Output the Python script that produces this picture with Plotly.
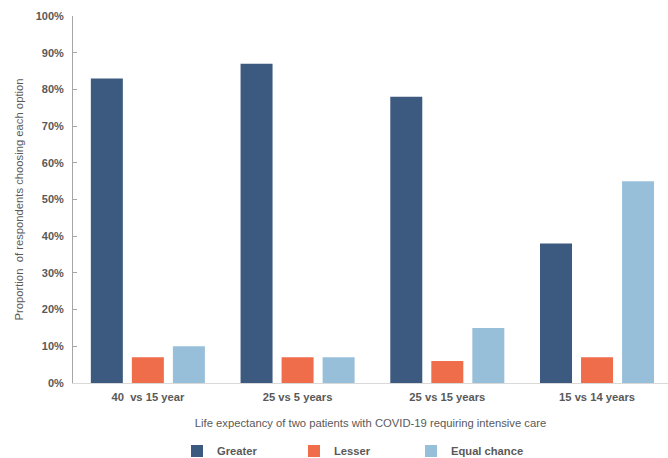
import plotly.graph_objects as go

categories = ["40  vs 15 year", "25 vs 5 years", "25 vs 15 years", "15 vs 14 years"]
greater = [83, 87, 78, 38]
lesser = [7, 7, 6, 7]
equal_chance = [10, 7, 15, 55]
y_ticks = [0, 10, 20, 30, 40, 50, 60, 70, 80, 90, 100]
y_tick_labels = [f"{v}%" for v in y_ticks]

colors = {"Greater": "#3C5A80", "Lesser": "#EF6D4B", "Equal chance": "#98BFDA"}
font_family = "Liberation Sans, Arial, sans-serif"
text_color = "#595959"

fig = go.Figure()
for name, vals in [("Greater", greater), ("Lesser", lesser), ("Equal chance", equal_chance)]:
    fig.add_trace(go.Bar(
        name=name, x=categories, y=vals,
        marker=dict(color=colors[name], line=dict(width=0)),
    ))

fig.update_layout(
    width=668, height=458,
    margin=dict(l=73, r=0, t=16, b=75, autoexpand=False),
    paper_bgcolor="white", plot_bgcolor="white",
    barmode="group", bargap=0.178, bargroupgap=0.22,
    font=dict(family=font_family, color=text_color, size=11.2),
    showlegend=True,
    legend=dict(
        orientation="h", xref="container", x=177 / 668, xanchor="left",
        yref="container", y=(458 - 451) / 458, yanchor="middle",
        font=dict(family=font_family, size=11.2, color=text_color, weight="bold"),
        entrywidth=72, entrywidthmode="pixels", itemwidth=30,
        bgcolor="rgba(0,0,0,0)",
    ),
    xaxis=dict(
        type="category", range=[-0.5, 3.474],
        showline=True, linecolor="#D9D9D9", linewidth=1,
        ticks="", showgrid=False, ticklabelstandoff=4,
        tickfont=dict(family=font_family, size=11.2, color=text_color, weight="bold"),
        title=dict(text="Life expectancy of two patients with COVID-19 requiring intensive care",
                   font=dict(family=font_family, size=11.25, color=text_color), standoff=16),
    ),
    yaxis=dict(
        range=[0, 100], tickvals=y_ticks, ticktext=y_tick_labels,
        showline=True, linecolor="#A6A6A6", linewidth=1,
        ticks="inside", ticklen=4, tickcolor="#A6A6A6",
        showgrid=False, zeroline=False, ticklabelstandoff=6,
        tickfont=dict(family=font_family, size=11, color=text_color, weight="bold"),
        title=dict(text="Proportion  of respondents choosing each option",
                   font=dict(family=font_family, size=11.25, color=text_color), standoff=9),
    ),
)

fig.write_html("out.html")
